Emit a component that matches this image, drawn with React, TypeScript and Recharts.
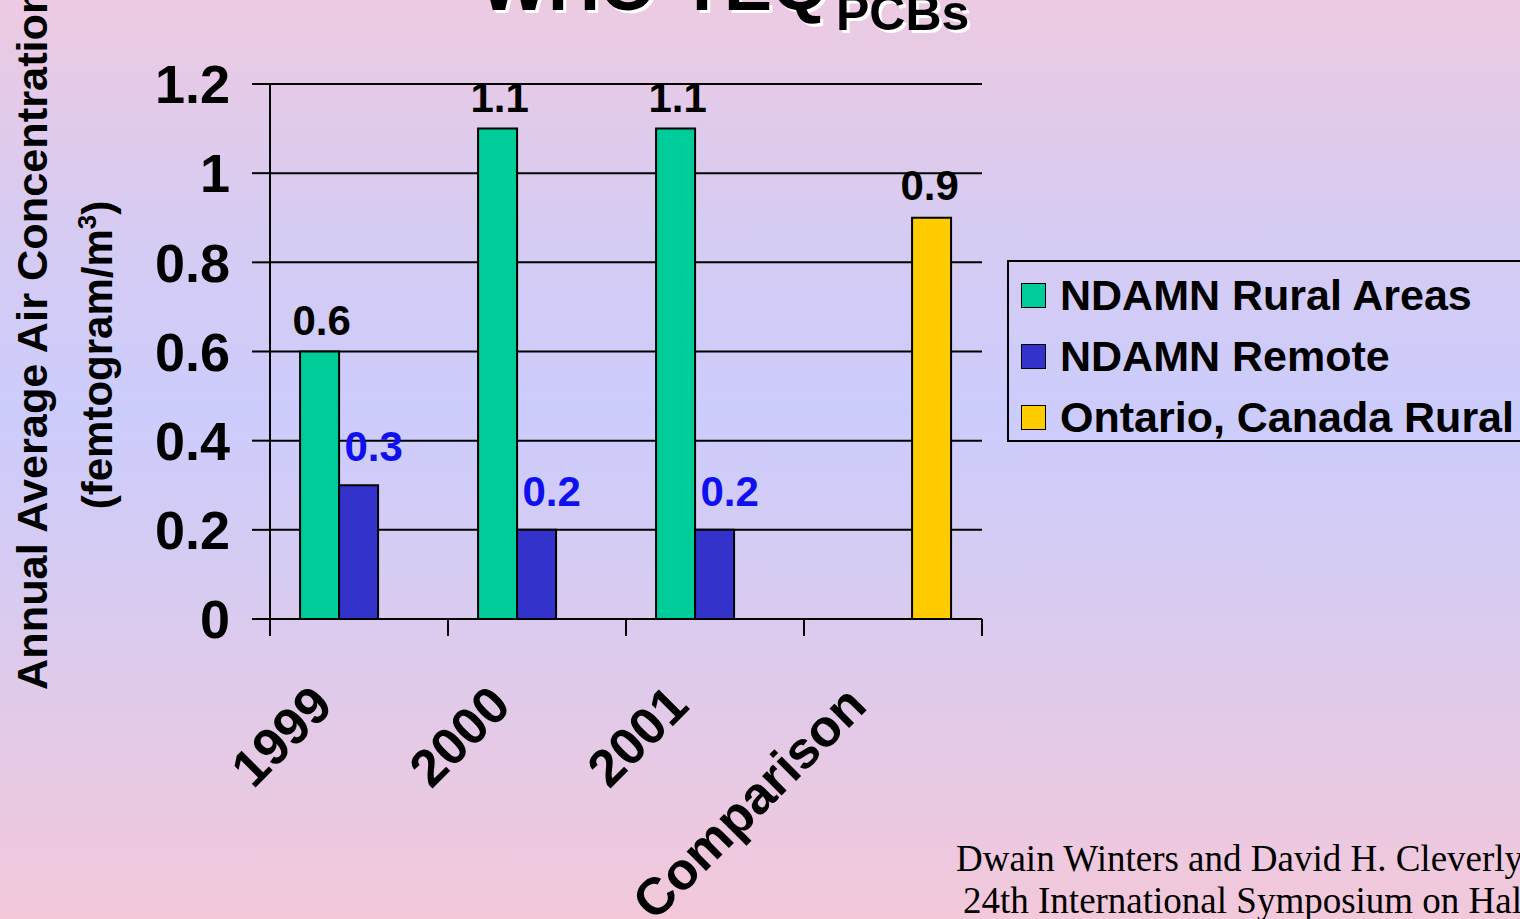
import { Bar, BarChart, CartesianGrid, LabelList, Legend, XAxis, YAxis } from "recharts";

const categories = ["1999", "2000", "2001", "Comparison"];
const ruralAreas = [0.6, 1.1, 1.1, null];
const remote = [0.3, 0.2, 0.2, null];
const ontarioRural = [null, null, null, 0.9];
const yTicks = [0, 0.2, 0.4, 0.6, 0.8, 1, 1.2];

const seriesNames = ["NDAMN Rural Areas", "NDAMN Remote", "Ontario, Canada Rural"];
const seriesColors = ["#00cc99", "#3333cc", "#ffcc00"];

const W = 1520;
const H = 919;
const PLOT_LEFT = 270;
const PLOT_RIGHT = 982;
const PLOT_TOP = 84;
const PLOT_BOTTOM = 619;
const Y_AXIS_W = 100;
const BAND_HALF = (PLOT_RIGHT - PLOT_LEFT) / categories.length / 2;

const FONT = "'Liberation Sans', Arial, sans-serif";

const data = categories.map((c, i) => ({
  category: c,
  rural: ruralAreas[i],
  remote: remote[i],
  ontario: ontarioRural[i],
}));

const XTick = (props: any) => {
  const { x, y, payload, index } = props;
  const tx = x - 24;
  const ty = y + 72;
  return (
    <g>
      <line x1={x - BAND_HALF} x2={x - BAND_HALF} y1={y - 17} y2={y} stroke="#000" strokeWidth={2} />
      {index === categories.length - 1 && (
        <line x1={x + BAND_HALF} x2={x + BAND_HALF} y1={y - 17} y2={y} stroke="#000" strokeWidth={2} />
      )}
      <text
        x={tx}
        y={ty}
        textAnchor="end"
        transform={`rotate(-45, ${tx}, ${ty})`}
        fontFamily={FONT}
        fontWeight={700}
        fontSize={52}
        fill="#000"
      >
        {payload.value}
      </text>
    </g>
  );
};

const makeLabel = (color: string, dx: number, dy: number) => (props: any) => {
  const { x, y, width, value } = props;
  if (value === null || value === undefined) return null;
  return (
    <text
      x={x + width / 2 + dx}
      y={y + dy}
      textAnchor="middle"
      fontFamily={FONT}
      fontWeight={700}
      fontSize={42}
      fill={color}
    >
      {value}
    </text>
  );
};

const LegendBox = () => (
  <div
    style={{
      border: "2px solid #000",
      width: 540,
      height: 182,
      boxSizing: "border-box",
      paddingTop: 3,
      fontFamily: FONT,
      fontWeight: 700,
      fontSize: 43,
      whiteSpace: "nowrap",
    }}
  >
    {seriesNames.map((n, i) => (
      <div key={n} style={{ height: 61, display: "flex", alignItems: "center" }}>
        <span
          style={{
            display: "inline-block",
            width: 23,
            height: 23,
            marginLeft: 12,
            marginRight: 14,
            background: seriesColors[i],
            border: "1.5px solid #000",
          }}
        />
        <span>{n}</span>
      </div>
    ))}
  </div>
);

const YLabel = () => (
  <g fontFamily={FONT} fontWeight={700} fill="#000">
    <text x={47} y={690} fontSize={43.3} textAnchor="start" transform="rotate(-90, 47, 690)">
      Annual Average Air Concentration
    </text>
    <text x={112} y={355} fontSize={42} textAnchor="middle" transform="rotate(-90, 112, 355)">
      (femtogram/m<tspan dy={-16} fontSize={26}>3</tspan>
      <tspan dy={16}>)</tspan>
    </text>
  </g>
);

export default function App() {
  return (
    <div
      style={{
        position: "fixed",
        left: 0,
        top: 0,
        width: W,
        height: H,
        overflow: "hidden",
        background: "linear-gradient(to bottom, #edcae2 0%, #d6cbf2 25%, #ccccfc 45%, #d8cbf0 65%, #f3c8da 100%)",
      }}
    >
      <BarChart
        width={W}
        height={H}
        data={data}
        margin={{ top: PLOT_TOP, right: W - PLOT_RIGHT, bottom: 0, left: PLOT_LEFT - Y_AXIS_W }}
        barCategoryGap="16.9%"
        barGap={0}
      >
        <CartesianGrid vertical={false} stroke="#000" strokeWidth={2} />
        <XAxis
          dataKey="category"
          height={H - PLOT_BOTTOM}
          tickSize={17}
          tickMargin={0}
          tickLine={false}
          axisLine={{ stroke: "#000", strokeWidth: 2 }}
          tick={<XTick />}
          interval={0}
        />
        <YAxis
          width={Y_AXIS_W}
          domain={[0, 1.2]}
          ticks={yTicks}
          tickSize={18}
          tickMargin={22}
          axisLine={{ stroke: "#000", strokeWidth: 2 }}
          tickLine={{ stroke: "#000", strokeWidth: 2 }}
          tick={{ fill: "#000", fontSize: 54, fontWeight: 700, fontFamily: FONT }}
          label={<YLabel />}
        />
        <YAxis
          yAxisId="frame"
          orientation="right"
          width={0}
          domain={[0, 1.2]}
          tick={false}
          tickLine={false}
          axisLine={{ stroke: "#000", strokeWidth: 2 }}
        />
        <Legend
          layout="vertical"
          align="center"
          verticalAlign="middle"
          wrapperStyle={{ left: 1007, top: 260, width: 540 }}
          content={<LegendBox />}
        />
        <Bar dataKey="rural" name={seriesNames[0]} fill={seriesColors[0]} stroke="#000" strokeWidth={2} isAnimationActive={false}>
          <LabelList dataKey="rural" content={makeLabel("#000", 2, -17)} />
        </Bar>
        <Bar dataKey="remote" name={seriesNames[1]} fill={seriesColors[1]} stroke="#000" strokeWidth={2} isAnimationActive={false}>
          <LabelList dataKey="remote" content={makeLabel("#1010ee", 15, -24)} />
        </Bar>
        <Bar dataKey="ontario" name={seriesNames[2]} fill={seriesColors[2]} stroke="#000" strokeWidth={2} isAnimationActive={false}>
          <LabelList dataKey="ontario" content={makeLabel("#000", -2, -18)} />
        </Bar>
      </BarChart>
      <svg width={W} height={H} style={{ position: "absolute", left: 0, top: 0, pointerEvents: "none" }}>
        <g fontFamily={FONT} fontWeight={700}>
          <text x={483} y={13} fontSize={72} fill="#fff">
            WHO-TEQ<tspan x={839} y={33} fontSize={50}>PCBs</tspan>
          </text>
          <text x={480} y={10} fontSize={72} fill="#000">
            WHO-TEQ<tspan x={836} y={30} fontSize={50}>PCBs</tspan>
          </text>
        </g>
        <g fontFamily="'Liberation Serif', 'Times New Roman', serif" fontSize={37} fill="#000">
          <text x={956} y={871}>Dwain Winters and David H. Cleverly</text>
          <text x={963} y={913}>24th International Symposium on Halogenated Environmental Organic Pollutants and POPs</text>
        </g>
      </svg>
    </div>
  );
}
